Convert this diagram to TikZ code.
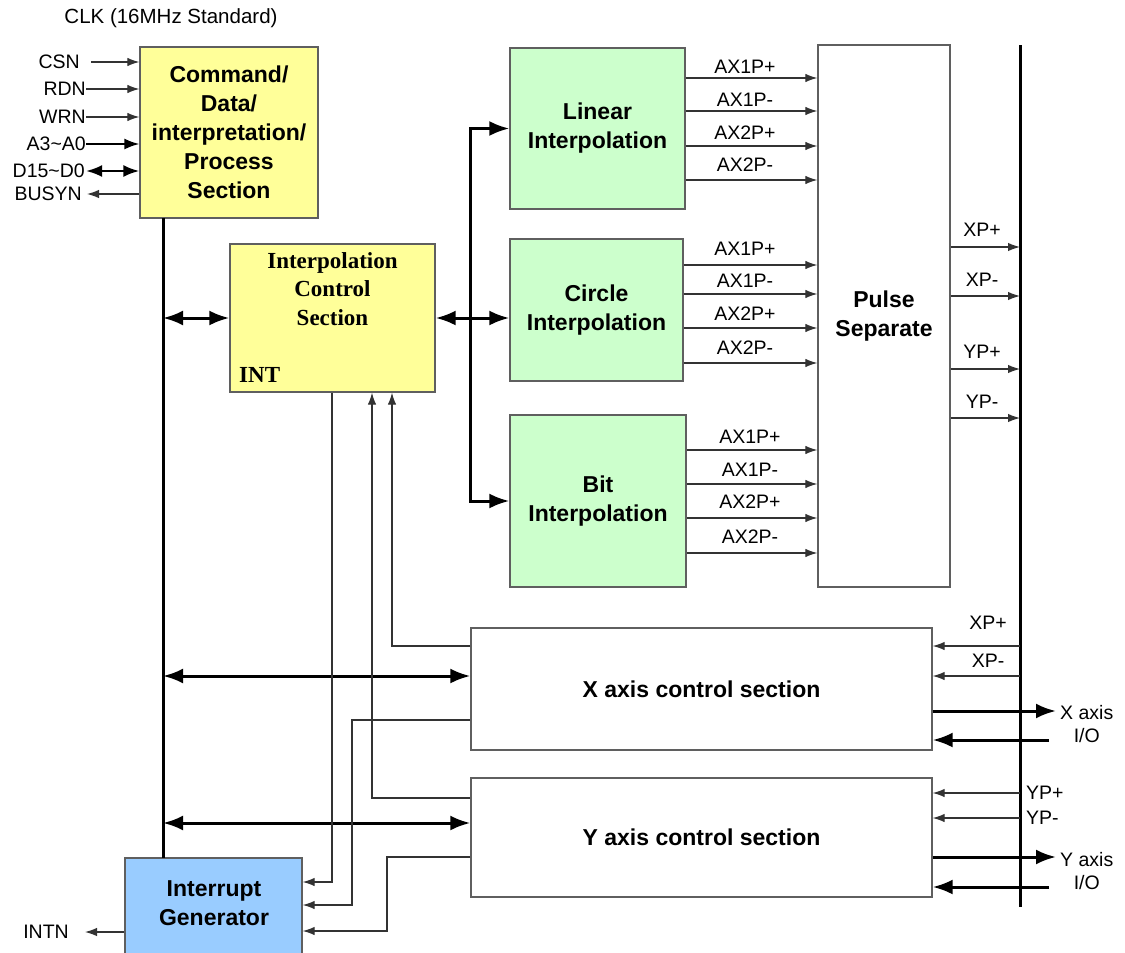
\documentclass[tikz,border=0pt]{standalone}
\usepackage{fontspec}
\setmainfont{Liberation Sans}
\newfontfamily\serifb{Liberation Serif}
\usetikzlibrary{arrows.meta}
\definecolor{ylw}{RGB}{255,255,153}
\definecolor{grn}{RGB}{204,255,204}
\definecolor{blu}{RGB}{153,204,255}
\definecolor{edge}{RGB}{95,95,95}
\begin{document}
\begin{tikzpicture}[x=1pt,y=-1pt,
  box/.style={draw=edge, line width=1.3pt, inner sep=0pt, align=center,
    font=\bfseries\fontsize{23}{29}\selectfont},
  lbl/.style={font=\fontsize{19.5}{23}\selectfont, inner sep=0pt, align=center},
  wire/.style={draw=black!80, line width=1.2pt},
  warr/.style={wire, -{Latex[length=12pt,width=8.5pt]}},
  bus/.style={line width=3pt},
  barr/.style={bus, -{Latex[length=20pt,width=15pt]}},
  bdarr/.style={bus, {Latex[length=20pt,width=15pt]}-{Latex[length=20pt,width=15pt]}}]
\useasboundingbox (0,0) rectangle (1125,953);

% title
\node[lbl, font=\fontsize{20.5}{24}\selectfont] (clk) at (171,18) {CLK (16MHz Standard)};

% boxes
\node[box, fill=ylw, minimum width=178pt, minimum height=171pt] (cmd) at (229,132.5)
  {Command/\\Data/\\interpretation/\\Process\\Section};
\node[box, fill=ylw, minimum width=205pt, minimum height=148pt] (ics) at (332.5,318) {};
\node[font=\serifb\bfseries\fontsize{23}{28.5}\selectfont, align=center, inner sep=0pt] (icstext) at (332.5,289)
  {Interpolation\\Control\\Section};
\node[font=\serifb\bfseries\fontsize{23}{28}\selectfont, inner sep=0pt, anchor=west] (intl) at (239,375) {INT};

\node[box, fill=grn, minimum width=175pt, minimum height=161pt] (lin) at (597.5,128.5) {Linear\\Interpolation};
\node[box, fill=grn, minimum width=173pt, minimum height=142pt] (circ) at (596.5,310) {Circle\\Interpolation};
\node[box, fill=grn, minimum width=176pt, minimum height=172pt] (bit) at (598,501) {Bit\\Interpolation};
\node[box, fill=white, minimum width=132pt, minimum height=542pt] (pulse) at (884,316) {Pulse\\Separate};

\node[box, fill=white, minimum width=461pt, minimum height=122pt] (xs) at (701.5,689) {X axis control section};
\node[box, fill=white, minimum width=461pt, minimum height=119pt] (ys) at (701.5,837.5) {Y axis control section};

\node[box, fill=blu, minimum width=177pt, minimum height=100pt] (intg) at (213.5,908) {};
\node[font=\bfseries\fontsize{23}{29}\selectfont, align=center, inner sep=0pt] (intgtext) at (214,903) {Interrupt\\Generator};

% buses
\coordinate (lb1) at (163,218);
\coordinate (lb2) at (163,858);
\draw[bus] (lb1) -- (lb2);
\coordinate (rb1) at (1020,45);
\coordinate (rb2) at (1020,907);
\draw[bus] (rb1) -- (rb2);

% inputs of command box
\node[lbl, anchor=east] (csn) at (80,62) {CSN};
\node[lbl, anchor=east] (rdn) at (86,89) {RDN};
\node[lbl, anchor=east] (wrn) at (86,117) {WRN};
\node[lbl, anchor=east] (adr) at (86,144) {A3\textasciitilde A0};
\node[lbl, anchor=east] (dat) at (85,171) {D15\textasciitilde D0};
\node[lbl, anchor=east] (busy) at (82,194) {BUSYN};
\draw[warr] ([xshift=11pt]csn.east) -- (cmd.west |- csn.east);
\draw[warr] (rdn.east) -- (cmd.west |- rdn.east);
\draw[warr] (wrn.east) -- (cmd.west |- wrn.east);
\draw[line width=1.8pt, -{Latex[length=15pt,width=11pt]}] (adr.east) -- (cmd.west |- adr.east);
\draw[line width=2.4pt, {Latex[length=16pt,width=12pt]}-{Latex[length=16pt,width=12pt]}] ([xshift=1pt]dat.east) -- (cmd.west |- dat.east);
\draw[warr] (cmd.west |- busy.east) -- ([xshift=5pt]busy.east);

% interpolation control links
\draw[bdarr] (lb1 |- ics.west) -- (ics.west);
\draw[bdarr] (ics.east) -- (ics.east -| circ.west);
\coordinate (vj) at (470,318);
\draw[barr] (vj) |- (lin.west);
\draw[barr] (vj) |- (bit.west);

% interpolation outputs
\foreach \nm/\yl/\ya in {AX1P+/67/78, AX1P-/100/111, AX2P+/133/146, AX2P-/165/180}{
  \node[lbl] at (745,\yl) {\nm};
  \draw[warr] (lin.east |- 0,\ya) -- (pulse.west |- 0,\ya);
}
\foreach \nm/\yl/\ya in {AX1P+/249/265, AX1P-/281/294, AX2P+/314/328, AX2P-/348/363}{
  \node[lbl] at (745,\yl) {\nm};
  \draw[warr] (circ.east |- 0,\ya) -- (pulse.west |- 0,\ya);
}
\foreach \nm/\yl/\ya in {AX1P+/437/450, AX1P-/470/484, AX2P+/502/518, AX2P-/537/553}{
  \node[lbl] at (750,\yl) {\nm};
  \draw[warr] (bit.east |- 0,\ya) -- (pulse.west |- 0,\ya);
}

% pulse separate outputs
\foreach \nm/\yl/\ya in {XP+/230/247, XP-/280/296, YP+/352/369, YP-/402/418}{
  \node[lbl] at (982,\yl) {\nm};
  \draw[warr] (pulse.east |- 0,\ya) -- (rb1 |- 0,\ya);
}

% axis sections, right side
\node[lbl] (xpp) at (988,623) {XP+};
\node[lbl] (xpm) at (988,661) {XP-};
\draw[warr] (rb1 |- 0,646) -- (xs.east |- 0,646);
\draw[warr] (rb1 |- 0,676) -- (xs.east |- 0,676);
\node[lbl, anchor=west] (xio) at (1060,724) {X axis\\I/O};
\draw[barr] (xs.east |- 0,711) -- (1056,711);
\draw[barr] (1049,740) -- (xs.east |- 0,740);

\node[lbl, anchor=west] (ypp) at (1026,793) {YP+};
\node[lbl, anchor=west] (ypm) at (1026,818) {YP-};
\draw[warr] (rb1 |- 0,793) -- (ys.east |- 0,793);
\draw[warr] (rb1 |- 0,818) -- (ys.east |- 0,818);
\node[lbl, anchor=west] (yio) at (1060,871) {Y axis\\I/O};
\draw[barr] (ys.east |- 0,857) -- (1056,857);
\draw[barr] (1049,887) -- (ys.east |- 0,887);

% bus to axis sections
\draw[bdarr] (lb1 |- 0,676) -- (xs.west |- 0,676);
\draw[bdarr] (lb1 |- 0,823) -- (ys.west |- 0,823);

% status lines
\draw[warr] (ics.south -| 332,0) |- (intg.east |- 0,882);
\draw[warr] (xs.west |- 0,720) -| (352,905) -- (intg.east |- 0,905);
\draw[warr] (ys.west |- 0,857) -| (387,931) -- (intg.east |- 0,931);
\draw[warr] (ys.west |- 0,798) -| (ics.south -| 372,0);
\draw[warr] (xs.west |- 0,646) -| (ics.south -| 392,0);

% INTN
\node[lbl, anchor=east] (intn) at (69,932) {INTN};
\draw[warr] (intg.west |- 0,932) -- (85,932);
\end{tikzpicture}
\end{document}
